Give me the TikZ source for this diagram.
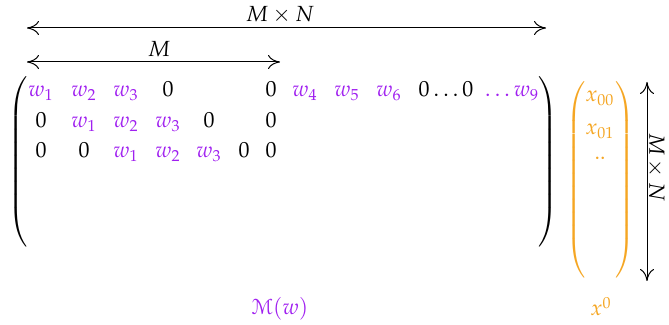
\documentclass[11pt,tikz,border=0pt]{standalone}
\usepackage{mathpazo}
\usepackage[mathscr]{eucal}
\usepackage{tikz}
\usetikzlibrary{arrows.meta}

\definecolor{wpurple}{RGB}{160,32,240}
\definecolor{xorange}{RGB}{245,166,35}

% tall delimiters
\newcommand{\lparen}[1]{$\left(\vcenter{\hrule height #1 width 0pt}\right.$}
\newcommand{\rparen}[1]{$\left.\vcenter{\hrule height #1 width 0pt}\right)$}

\begin{document}
\begin{tikzpicture}[
    x=0.5pt, y=-0.5pt,
    >={Computer Modern Rightarrow[length=6pt,width=7pt]},
    dim/.style={<->, line width=0.5pt},
    wt/.style={text=wpurple, anchor=base, inner sep=0pt},
    zr/.style={anchor=base, inner sep=0pt},
    xv/.style={text=xorange, anchor=base, inner sep=0pt},
    paren/.style={inner sep=0pt},
  ]
    \useasboundingbox (0,0) rectangle (669,325);

    % --- size arrows ---
    \coordinate (mn-l) at (27,28);
    \coordinate (mn-r) at (546,28);
    \coordinate (m-l)  at (27,62);
    \coordinate (m-r)  at (280,62);
    \draw[dim] (mn-l) -- (mn-r);
    \draw[dim] (m-l) -- (m-r);
    \node[zr] (mnlbl) at (280,22) {$M\times N$};
    \node[zr] (mlbl)  at (159,57) {$M$};

    % --- matrix brackets ---
    \node[paren] (lp) at (19,162) {\lparen{86pt}};
    \node[paren] (rp) at (547,162) {\rparen{86pt}};

    % --- row 1 ---
    \node[wt] (a11) at (41,97)  {$w_1$};
    \node[wt] (a12) at (84,97)  {$w_2$};
    \node[wt] (a13) at (126,97) {$w_3$};
    \node[zr] (a14) at (168,97) {$0$};
    \node[zr] (a15) at (271,97) {$0$};
    \node[wt] (a16) at (305,97) {$w_4$};
    \node[wt] (a17) at (347,97) {$w_5$};
    \node[wt] (a18) at (389,97) {$w_6$};
    \node[zr] (a19) at (446,97) {$0\ldots0$};
    \node[wt] (a1x) at (512,97) {$\ldots w_9$};

    % --- row 2 ---
    \node[zr] (a21) at (41,128)  {$0$};
    \node[wt] (a22) at (84,128)  {$w_1$};
    \node[wt] (a23) at (126,128) {$w_2$};
    \node[wt] (a24) at (168,128) {$w_3$};
    \node[zr] (a25) at (209,128) {$0$};
    \node[zr] (a26) at (271,128) {$0$};

    % --- row 3 ---
    \node[zr] (a31) at (41,158)  {$0$};
    \node[zr] (a32) at (84,158)  {$0$};
    \node[wt] (a33) at (126,158) {$w_1$};
    \node[wt] (a34) at (168,158) {$w_2$};
    \node[wt] (a35) at (209,158) {$w_3$};
    \node[zr] (a36) at (244,158) {$0$};
    \node[zr] (a37) at (271,158) {$0$};

    % --- input vector ---
    \node[paren, text=xorange] (xlp) at (577,180) {\lparen{102pt}};
    \node[paren, text=xorange] (xrp) at (624,180) {\rparen{102pt}};
    \node[xv] (x00) at (600,102) {$x_{00}$};
    \node[xv] (x01) at (600,135) {$x_{01}$};
    \node[xv] (xdd) at (600,160) {$..$};

    \coordinate (v-t) at (647,82);
    \coordinate (v-b) at (647,281);
    \draw[dim] (v-t) -- (v-b);
    \node[rotate=-90, inner sep=0pt] (vlbl) at (656,167) {$M\times N$};

    % --- captions ---
    \node[wt] (mw) at (280,315) {$\mathscr{M}(w)$};
    \node[xv] (x0) at (601,316) {$x^0$};
\end{tikzpicture}
\end{document}
